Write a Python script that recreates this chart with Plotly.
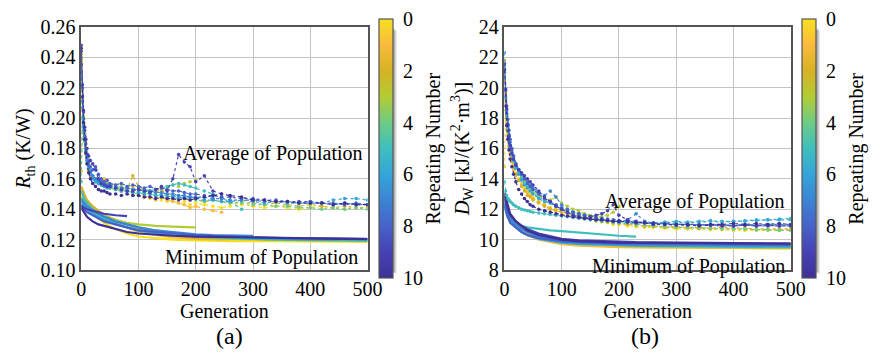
import plotly.graph_objects as go
from plotly.colors import sample_colorscale

REPEATS = list(range(11))

GEN_AVG = [0, 2, 4, 6, 8, 10, 13, 16, 20, 25,
           30, 35, 40, 45, 50, 60, 70, 80, 90, 100,
           110, 120, 130, 140, 150, 160, 170, 180, 190, 200,
           215, 230, 245, 260, 280, 300, 320, 340, 360, 380,
           400, 420, 440, 460, 480, 500]
GEN_MIN = [0, 5, 10, 20, 30, 40, 60, 80, 100, 130, 160, 200, 230, 260, 300, 350, 400, 450, 500]

RTH_AVG = [
    [0.238, 0.212, 0.196, 0.186, 0.178, 0.172, 0.166, 0.163, 0.160, 0.158,
     0.157, 0.156, 0.158, 0.155, 0.154, 0.153, 0.155, 0.152, 0.150, 0.149,
     0.148, 0.147, 0.148, 0.146, 0.145, 0.146, 0.144, 0.145, 0.143, 0.144,
     0.143, 0.142, 0.141, 0.142, 0.143, 0.142, 0.141, 0.142, 0.141, 0.140,
     0.141, 0.142, 0.141, 0.140, 0.141, 0.141],
    [0.165, 0.205, 0.192, 0.184, 0.176, 0.170, 0.165, 0.162, 0.161, 0.159,
     0.157, 0.158, 0.160, 0.156, 0.155, 0.154, 0.152, 0.153, 0.155, 0.151,
     0.149, 0.148, 0.146, 0.148, 0.146, 0.145, 0.144, 0.143, 0.141, 0.142,
     0.140, 0.139, 0.138],
    [0.242, 0.218, 0.201, 0.190, 0.181, 0.175, 0.169, 0.165, 0.161, 0.160,
     0.158, 0.157, 0.156, 0.157, 0.155, 0.156, 0.154, 0.153, 0.162, 0.155,
     0.153, 0.152, 0.151, 0.153, 0.150, 0.148, 0.147, 0.148, 0.146, 0.147,
     0.145, 0.146, 0.145, 0.144, 0.145, 0.144, 0.143, 0.144, 0.143, 0.142,
     0.143, 0.142, 0.141, 0.142, 0.141, 0.141],
    [0.236, 0.210, 0.196, 0.187, 0.179, 0.173, 0.168, 0.165, 0.162, 0.160,
     0.159, 0.158, 0.157, 0.156, 0.156, 0.155, 0.155, 0.154, 0.153, 0.154,
     0.153, 0.152, 0.153, 0.155, 0.154, 0.156, 0.155, 0.157, 0.158, 0.159],
    [0.240, 0.214, 0.199, 0.189, 0.180, 0.174, 0.168, 0.164, 0.161, 0.159,
     0.157, 0.156, 0.155, 0.155, 0.154, 0.153, 0.152, 0.152, 0.151, 0.150,
     0.151, 0.150, 0.149, 0.150, 0.149, 0.148, 0.147, 0.148, 0.147, 0.146,
     0.145, 0.146, 0.145, 0.144, 0.144, 0.143, 0.143, 0.142, 0.142, 0.141,
     0.141, 0.140, 0.141, 0.140, 0.141, 0.140],
    [0.158, 0.200, 0.192, 0.185, 0.178, 0.172, 0.167, 0.164, 0.162, 0.160,
     0.158, 0.157, 0.156, 0.155, 0.155, 0.154, 0.153, 0.154, 0.153, 0.152,
     0.153, 0.152, 0.153, 0.154, 0.155, 0.156, 0.157, 0.156, 0.155, 0.154,
     0.152, 0.150, 0.147, 0.145, 0.140],
    [0.230, 0.207, 0.195, 0.186, 0.178, 0.172, 0.167, 0.163, 0.160, 0.158,
     0.157, 0.156, 0.155, 0.154, 0.154, 0.153, 0.152, 0.152, 0.151, 0.151,
     0.150, 0.150, 0.149, 0.149, 0.148, 0.149, 0.148, 0.147, 0.148, 0.147,
     0.146, 0.146, 0.145, 0.145, 0.146, 0.145, 0.144, 0.145, 0.144, 0.144,
     0.145, 0.144, 0.146, 0.147, 0.147, 0.146],
    [0.235, 0.211, 0.197, 0.188, 0.180, 0.174, 0.169, 0.165, 0.162, 0.160,
     0.159, 0.158, 0.157, 0.156, 0.156, 0.155, 0.154, 0.154, 0.153, 0.153,
     0.152, 0.152, 0.151, 0.151, 0.150, 0.150, 0.149, 0.149, 0.148, 0.148,
     0.148, 0.147, 0.147, 0.146, 0.146, 0.146, 0.145, 0.145, 0.145, 0.144,
     0.144, 0.144, 0.143, 0.144, 0.143, 0.143],
    [0.244, 0.220, 0.204, 0.192, 0.183, 0.176, 0.171, 0.168, 0.166, 0.168,
     0.163, 0.160, 0.158, 0.159, 0.157, 0.156, 0.157, 0.155, 0.156, 0.155,
     0.154, 0.155, 0.153, 0.154, 0.153, 0.152, 0.152, 0.151, 0.150, 0.150,
     0.149, 0.149, 0.148, 0.148, 0.147, 0.147, 0.146, 0.146, 0.145, 0.145,
     0.145, 0.144, 0.144, 0.143, 0.144, 0.143],
    [0.248, 0.222, 0.205, 0.194, 0.186, 0.180, 0.175, 0.172, 0.170, 0.166,
     0.160, 0.157, 0.156, 0.155, 0.155, 0.154, 0.153, 0.152, 0.152, 0.153,
     0.152, 0.151, 0.153, 0.155, 0.152, 0.160, 0.176, 0.171, 0.168, 0.158,
     0.162, 0.152, 0.150],
    [0.246, 0.214, 0.197, 0.186, 0.177, 0.170, 0.164, 0.160, 0.157, 0.155,
     0.153, 0.152, 0.152, 0.151, 0.150, 0.150, 0.149, 0.150, 0.149, 0.149,
     0.148, 0.148, 0.147, 0.148, 0.147, 0.147, 0.146, 0.147, 0.146, 0.147,
     0.148, 0.149, 0.150, 0.149, 0.148, 0.146, 0.146, 0.145, 0.145, 0.144,
     0.144, 0.144, 0.143, 0.144, 0.143, 0.143],
]

RTH_MIN = [
    [0.150, 0.146, 0.143, 0.138, 0.134, 0.131, 0.127, 0.124, 0.122, 0.121, 0.120, 0.1195, 0.1192, 0.119, 0.119, 0.119, 0.1188, 0.1186, 0.1185],
    [0.153, 0.148, 0.145, 0.141, 0.138, 0.135, 0.131, 0.128, 0.125, 0.123, 0.1215, 0.1205, 0.1202, 0.1200],
    [0.155, 0.150, 0.146, 0.142, 0.139, 0.136, 0.133, 0.130, 0.127, 0.125, 0.123, 0.121, 0.1207, 0.1205, 0.120, 0.1198, 0.1195, 0.1193, 0.119],
    [0.148, 0.145, 0.142, 0.139, 0.137, 0.135, 0.133, 0.131, 0.130, 0.129, 0.1285, 0.128],
    [0.146, 0.143, 0.141, 0.138, 0.136, 0.134, 0.131, 0.128, 0.126, 0.124, 0.123, 0.122, 0.1215, 0.121, 0.1205, 0.120, 0.1198, 0.1195, 0.1192],
    [0.152, 0.147, 0.144, 0.140, 0.137, 0.135, 0.132, 0.130, 0.128, 0.126, 0.124, 0.122, 0.1215, 0.121, 0.1205, 0.120, 0.120, 0.1198, 0.1195],
    [0.145, 0.142, 0.140, 0.137, 0.135, 0.133, 0.130, 0.128, 0.126, 0.1245, 0.1235, 0.1225, 0.122, 0.1215, 0.121, 0.1205, 0.120, 0.120],
    [0.147, 0.144, 0.142, 0.139, 0.137, 0.135, 0.132, 0.130, 0.128, 0.126, 0.125, 0.1235, 0.123, 0.1228, 0.1225],
    [0.143, 0.140, 0.138, 0.136, 0.134, 0.132, 0.130, 0.128, 0.126, 0.125, 0.124, 0.123, 0.1225, 0.122, 0.1215, 0.121, 0.121, 0.1208, 0.1205],
    [0.142, 0.141, 0.140, 0.139, 0.138, 0.137, 0.136, 0.1355],
    [0.141, 0.138, 0.135, 0.132, 0.130, 0.129, 0.127, 0.125, 0.124, 0.123, 0.1225, 0.122, 0.1218, 0.1215, 0.121, 0.121, 0.1208, 0.1205, 0.1203],
]

DW_AVG = [
    [21.0, 19.0, 17.8, 16.9, 16.2, 15.7, 15.2, 14.8, 14.4, 14.0,
     13.7, 13.4, 13.2, 13.0, 12.8, 12.5, 12.3, 12.1, 11.9, 11.8,
     11.7, 11.6, 11.5, 11.4, 11.3, 11.2, 11.15, 11.1, 11.0, 11.0,
     10.9, 10.85, 10.8, 10.8, 10.75, 10.7, 10.7, 10.7, 10.65, 10.65,
     10.6, 10.6, 10.6, 10.6, 10.6, 10.6],
    [14.8, 18.5, 17.6, 16.8, 16.1, 15.6, 15.1, 14.6, 14.2, 13.9,
     13.6, 13.3, 13.1, 12.9, 12.7, 12.5, 12.3, 12.1, 12.0, 11.9,
     11.8, 11.7, 11.6, 11.5, 11.4, 11.3, 11.25, 11.2, 11.15, 11.1,
     11.0, 10.95, 10.9, 10.85, 10.8, 10.8, 10.75, 10.75, 10.7, 10.7,
     10.7, 10.7, 10.65, 10.65, 10.65, 10.65],
    [21.8, 19.6, 18.2, 17.2, 16.5, 15.9, 15.3, 14.8, 14.3, 13.9,
     13.5, 13.2, 12.9, 12.8, 12.6, 12.4, 12.2, 12.0, 11.9, 11.8,
     11.7, 11.6, 11.5, 11.45, 11.4, 11.3, 11.2, 11.15, 11.1, 11.05,
     11.0, 10.95, 10.9, 10.9, 10.85, 10.85, 10.8, 10.8, 10.75, 10.8,
     10.75, 10.75, 10.7, 10.7, 10.7, 10.7],
    [20.5, 19.2, 18.0, 17.1, 16.5, 16.0, 15.6, 15.2, 14.9, 14.5,
     14.2, 13.9, 13.6, 13.4, 13.2, 12.9, 12.7, 12.6, 12.8, 12.4,
     12.2, 12.0, 11.9, 11.7, 11.6, 11.5, 11.5, 11.6, 11.8, 12.2],
    [21.2, 19.3, 18.1, 17.3, 16.6, 16.1, 15.6, 15.2, 14.8, 14.4,
     14.1, 13.8, 13.5, 13.3, 13.1, 12.8, 12.6, 12.4, 12.2, 12.0,
     11.9, 11.8, 11.7, 11.6, 11.5, 11.4, 11.3, 11.25, 11.2, 11.15,
     11.1, 11.0, 10.95, 10.9, 10.85, 10.8, 10.8, 10.75, 10.75, 10.7,
     10.7, 10.7, 10.65, 10.65, 10.6, 10.6],
    [13.8, 13.2, 12.9, 12.7, 12.6, 12.5, 12.4, 12.3, 12.2, 12.1,
     12.0, 11.95, 11.9, 11.85, 11.8, 11.75, 11.7, 11.65, 11.6, 11.55,
     11.5, 11.45, 11.4, 11.35, 11.3, 11.25, 11.2, 11.2, 11.15, 11.1,
     11.1, 11.05, 11.1, 11.1, 11.15, 11.2, 11.15, 11.2, 11.25, 11.2,
     11.2, 11.25, 11.3, 11.3, 11.35, 11.4],
    [22.3, 19.8, 18.5, 17.5, 16.8, 16.2, 15.6, 15.2, 14.7, 14.3,
     13.9, 13.6, 13.4, 13.2, 13.0, 12.7, 12.5, 12.4, 12.2, 12.0,
     11.8, 11.7, 11.6, 11.5, 11.4, 11.35, 11.3, 11.25, 11.2, 11.2,
     11.15, 11.1, 11.15, 11.1, 11.1, 11.15, 11.1, 11.15, 11.2, 11.15,
     11.2, 11.2, 11.25, 11.3, 11.3, 11.3],
    [21.5, 19.4, 18.3, 17.5, 16.9, 16.4, 15.9, 15.5, 15.0, 14.6,
     14.3, 14.0, 13.8, 13.6, 13.4, 13.1, 12.9, 13.2, 12.8, 12.3,
     12.0, 11.8, 11.7, 11.6, 11.5, 11.4, 11.3, 11.25, 11.2, 11.15,
     11.3, 11.7, 11.2, 11.1, 11.05, 11.0, 11.0, 10.95, 11.0, 10.95,
     10.95, 11.0, 10.95, 11.0, 11.0, 11.0],
    [21.0, 19.8, 18.8, 17.9, 17.2, 16.6, 16.0, 15.5, 15.0, 14.6,
     14.3, 14.0, 13.7, 13.5, 13.3, 13.0, 12.7, 12.5, 12.3, 12.1,
     11.95, 11.8, 11.7, 11.6, 11.5, 11.45, 11.4, 11.35, 11.3, 11.25,
     11.2, 11.15, 11.1, 11.05, 11.05, 11.0, 11.0, 11.0, 10.95, 10.95,
     10.9, 10.95, 10.9, 10.9, 10.9, 10.9],
    [21.6, 19.9, 18.6, 17.6, 16.8, 16.2, 15.7, 15.3, 14.9, 14.6,
     14.4, 14.2, 14.0, 13.8, 13.6, 13.2, 12.8, 12.5, 12.2, 12.0,
     11.8, 11.6, 11.5, 11.4, 11.5, 11.6, 11.7, 11.9, 12.3, 11.6,
     11.3, 11.2, 11.1, 11.0, 11.0, 10.95, 10.95, 10.9, 10.95, 10.9,
     10.9, 10.95, 10.9, 10.95, 10.9, 10.9],
    [21.2, 18.8, 17.5, 16.6, 15.9, 15.3, 14.8, 14.3, 13.8, 13.3,
     13.0, 12.7, 12.5, 12.3, 12.2, 12.0, 11.9, 11.8, 11.7, 11.6,
     11.55, 11.5, 11.45, 11.4, 11.35, 11.3, 11.3, 11.25, 11.2, 11.2,
     11.15, 11.1, 11.1, 11.05, 11.0, 11.0, 11.0, 10.95, 11.0, 11.0,
     11.05, 11.0, 11.05, 11.0, 11.05, 11.0],
]

DW_MIN = [
    [13.0, 12.0, 11.4, 11.0, 10.6, 10.4, 10.1, 9.9, 9.75, 9.65, 9.6, 9.55, 9.52, 9.5, 9.48, 9.46, 9.45, 9.44, 9.43],
    [12.6, 11.8, 11.3, 10.9, 10.6, 10.3, 10.0, 9.85, 9.7, 9.6, 9.55, 9.5, 9.49, 9.48, 9.46, 9.45, 9.44, 9.43, 9.42],
    [12.8, 12.0, 11.5, 11.1, 10.8, 10.5, 10.2, 10.0, 9.85, 9.75, 9.7, 9.6, 9.57, 9.55, 9.52, 9.5, 9.5, 9.48, 9.47],
    [12.5, 11.7, 11.3, 10.9, 10.6, 10.4, 10.1, 9.95, 9.8, 9.7, 9.65, 9.6, 9.57, 9.55, 9.52, 9.5, 9.48, 9.46, 9.45],
    [12.9, 12.2, 11.6, 11.2, 10.8, 10.6, 10.3, 10.1, 9.95, 9.85, 9.75, 9.65, 9.62, 9.6, 9.55, 9.52, 9.5, 9.5, 9.5],
    [12.2, 11.5, 11.2, 11.0, 10.9, 10.8, 10.7, 10.6, 10.55, 10.45, 10.35, 10.25, 10.2],
    [12.4, 11.7, 11.2, 10.8, 10.5, 10.3, 10.05, 9.9, 9.8, 9.72, 9.67, 9.62, 9.6, 9.59, 9.58, 9.56, 9.55, 9.54, 9.53],
    [12.7, 11.9, 11.4, 11.0, 10.7, 10.5, 10.2, 10.05, 9.9, 9.8, 9.75, 9.7, 9.69, 9.68, 9.66, 9.64, 9.62, 9.6, 9.6],
    [12.3, 11.6, 11.1, 10.8, 10.5, 10.3, 10.1, 10.0, 9.9, 9.85, 9.8, 9.75, 9.74, 9.73, 9.72, 9.7, 9.7, 9.68, 9.67],
    [12.9, 12.1, 11.6, 11.2, 10.9, 10.7, 10.4, 10.2, 10.05, 9.95, 9.9, 9.85, 9.83, 9.82, 9.8, 9.78, 9.76, 9.75, 9.74],
    [13.1, 12.3, 11.7, 11.2, 10.9, 10.6, 10.3, 10.15, 10.0, 9.9, 9.85, 9.8, 9.79, 9.78, 9.76, 9.75, 9.75, 9.74, 9.73],
]

CB_TICKVALS = [0, 2, 4, 6, 8, 10]
CB_TICKTEXT = ["10", "8", "6", "4", "2", "0"]

PARULA = [
    [0.0, "rgb(62,48,148)"],
    [0.1, "rgb(70,66,180)"],
    [0.2, "rgb(70,98,200)"],
    [0.3, "rgb(60,132,212)"],
    [0.4, "rgb(52,165,216)"],
    [0.5, "rgb(62,190,190)"],
    [0.6, "rgb(110,204,132)"],
    [0.7, "rgb(178,204,52)"],
    [0.8, "rgb(214,178,36)"],
    [0.9, "rgb(250,186,62)"],
    [1.0, "rgb(246,224,32)"],
]

W, H = 881, 356
FONT = "Liberation Serif"

fig = go.Figure()

panels = [
    ("x", "y", RTH_AVG, RTH_MIN),
    ("x2", "y2", DW_AVG, DW_MIN),
]
for xa, ya, avg, mn in panels:
    for i in REPEATS:
        col = sample_colorscale(PARULA, [1 - i / 10])[0]
        n = len(mn[i])
        fig.add_trace(go.Scatter(x=GEN_MIN[:n], y=mn[i], mode="lines",
                                 line=dict(color=col, width=2.2),
                                 xaxis=xa, yaxis=ya, showlegend=False, hoverinfo="skip"))
    for i in REPEATS:
        col = sample_colorscale(PARULA, [1 - i / 10])[0]
        n = len(avg[i])
        fig.add_trace(go.Scatter(x=GEN_AVG[:n], y=avg[i], mode="lines+markers",
                                 line=dict(color=col, width=1.2, dash="dot"),
                                 marker=dict(color=col, size=3.5),
                                 xaxis=xa, yaxis=ya, showlegend=False, hoverinfo="skip"))

# dummy traces for the colorbars
fig.add_trace(go.Scatter(x=[None], y=[None], mode="markers", xaxis="x", yaxis="y",
                         marker=dict(color=[0], coloraxis="coloraxis"), showlegend=False))
fig.add_trace(go.Scatter(x=[None], y=[None], mode="markers", xaxis="x2", yaxis="y2",
                         marker=dict(color=[0], coloraxis="coloraxis2"), showlegend=False))

TOP, BOT = 17, 276
ydom = [1 - BOT / H, 1 - TOP / H]
ymid = (ydom[0] + ydom[1]) / 2

def cbar(xleft):
    return dict(
        x=xleft / W, xanchor="left", y=ymid, yanchor="middle",
        len=BOT - TOP, lenmode="pixels", thickness=14, thicknessmode="pixels",
        outlinewidth=1.2, outlinecolor="#555555", xpad=0, ypad=0,
        tickvals=CB_TICKVALS, ticktext=CB_TICKTEXT,
        ticks="outside", ticklen=6, tickcolor="rgba(0,0,0,0)",
        tickfont=dict(family=FONT, size=20, color="black"),
    )

axis_common = dict(showgrid=True, gridcolor="#c4c4c4", gridwidth=1, zeroline=False,
                   showline=True, linecolor="#555555", linewidth=1.5, mirror=True,
                   ticks="", tickfont=dict(family=FONT, size=20, color="black"))

fig.update_layout(
    width=W, height=H, margin=dict(l=0, r=0, t=0, b=0),
    paper_bgcolor="white", plot_bgcolor="white", showlegend=False,
    font=dict(family=FONT, size=20, color="black"),
    coloraxis=dict(colorscale=PARULA, cmin=0, cmax=10, colorbar=cbar(383)),
    coloraxis2=dict(colorscale=PARULA, cmin=0, cmax=10, colorbar=cbar(816)),
    xaxis=dict(domain=[78 / W, 371 / W], range=[0, 500], dtick=100, anchor="y",
               title=dict(text="Generation", standoff=0, font=dict(family=FONT, size=20)), **axis_common),
    yaxis=dict(domain=ydom, range=[0.10, 0.26], dtick=0.02, tickformat=".2f", anchor="x",
               title=dict(text="<i>R</i><sub>th</sub> (K/W)", standoff=4, font=dict(family=FONT, size=20)), **axis_common),
    xaxis2=dict(domain=[511 / W, 804 / W], range=[0, 500], dtick=100, anchor="y2",
                title=dict(text="Generation", standoff=0, font=dict(family=FONT, size=20)), **axis_common),
    yaxis2=dict(domain=ydom, range=[8, 24], dtick=2, anchor="x2",
                title=dict(text="<i>D</i><sub>W</sub> [kJ/(K<sup>2</sup>·m<sup>3</sup>)]", standoff=4,
                           font=dict(family=FONT, size=20)),
                **axis_common),
)

# colorbar drop shadows
for xl in (383, 816):
    for k, op in ((4, 0.12), (3, 0.18), (2, 0.25)):
        fig.add_shape(type="rect", xref="paper", yref="paper",
                      x0=(xl + k) / W, x1=(xl + 14 + k) / W,
                      y0=1 - (BOT + k) / H, y1=1 - (TOP + k) / H,
                      fillcolor=f"rgba(90,90,90,{op})", line=dict(width=0), layer="below")

# colorbar titles (read bottom to top)
for xc in (438, 871):
    fig.add_annotation(x=xc / W, y=ymid, xref="paper", yref="paper", text="Repeating Number",
                       textangle=-90, showarrow=False, xanchor="center", yanchor="middle",
                       font=dict(family=FONT, size=20, color="black"))

annots = [
    ("x", "y", 495, 0.1766, "Average of Population"),
    ("x", "y", 487, 0.108, "Minimum of Population"),
    ("x2", "y2", 494, 12.5, "Average of Population"),
    ("x2", "y2", 494, 8.25, "Minimum of Population"),
]
for xr, yr, xv, yv, t in annots:
    fig.add_annotation(x=xv, y=yv, xref=xr, yref=yr, text=t, showarrow=False,
                       xanchor="right", yanchor="middle", font=dict(family=FONT, size=20, color="black"))

for lab, xc in (("(a)", 230), ("(b)", 655)):
    fig.add_annotation(x=xc / W, y=1 - 346 / H, xref="paper", yref="paper", text=lab, showarrow=False,
                       xanchor="center", yanchor="middle", font=dict(family=FONT, size=24, color="black"))

fig.write_html("out.html")
